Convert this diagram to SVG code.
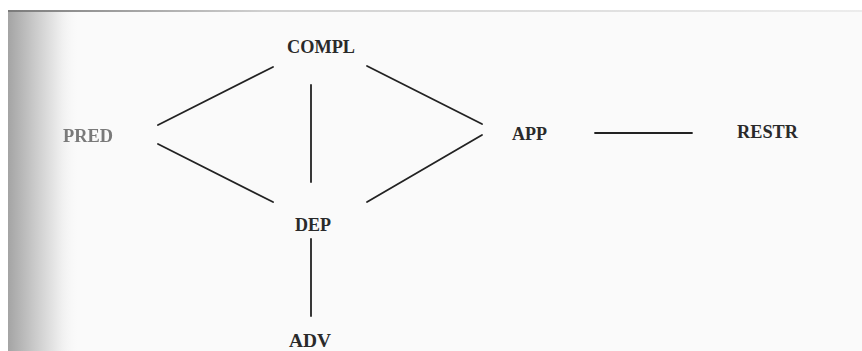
<svg xmlns="http://www.w3.org/2000/svg" width="862" height="351" viewBox="0 0 862 351">
  <defs>
    <linearGradient id="gutter" x1="0" y1="0" x2="1" y2="0">
      <stop offset="0" stop-color="#a4a4a4"/>
      <stop offset="0.35" stop-color="#c8c8c8"/>
      <stop offset="0.75" stop-color="#f0f0f0"/>
      <stop offset="1" stop-color="#fafafa" stop-opacity="0"/>
    </linearGradient>
    <linearGradient id="topedge" x1="0" y1="0" x2="1" y2="0">
      <stop offset="0" stop-color="#7a7a7a"/>
      <stop offset="0.3" stop-color="#d0d0d0"/>
      <stop offset="1" stop-color="#ececec"/>
    </linearGradient>
    <filter id="blur" x="-10%" y="-30%" width="120%" height="160%">
      <feGaussianBlur stdDeviation="0.6"/>
    </filter>
  </defs>
  <style>
    .lbl { font-family: "Liberation Serif", "DejaVu Serif", serif; font-size: 18px; font-weight: bold; fill: #2a2a2a; }
    .faded { fill: #7a7a7a; }
    .edge { stroke: #222222; stroke-width: 1.8; stroke-linecap: round; fill: none; }
  </style>
  <rect x="0" y="0" width="862" height="351" fill="#fafafa"/>
  <rect x="0" y="0" width="862" height="10" fill="#ffffff"/>
  <rect x="8" y="10" width="854" height="2" fill="url(#topedge)"/>
  <rect x="8" y="12" width="72" height="339" fill="url(#gutter)"/>
  <rect x="0" y="0" width="8" height="351" fill="#ffffff"/>

  <g id="connectors">
    <line class="edge" x1="158" y1="125" x2="273" y2="67"/>
    <line class="edge" x1="158" y1="144" x2="273" y2="202"/>
    <line class="edge" x1="311" y1="85" x2="311" y2="182"/>
    <line class="edge" x1="367" y1="66" x2="482" y2="124"/>
    <line class="edge" x1="482" y1="135" x2="367" y2="202"/>
    <line class="edge" x1="311" y1="239" x2="311" y2="316"/>
    <line class="edge" x1="595" y1="133" x2="692" y2="133"/>
  </g>

  <g id="node-compl"><text class="lbl" x="287" y="53" textLength="68" lengthAdjust="spacingAndGlyphs">COMPL</text></g>
  <g id="node-pred"><text class="lbl faded" x="63" y="142" textLength="50" lengthAdjust="spacingAndGlyphs" filter="url(#blur)">PRED</text></g>
  <g id="node-app"><text class="lbl" x="512" y="140" textLength="35" lengthAdjust="spacingAndGlyphs">APP</text></g>
  <g id="node-restr"><text class="lbl" x="737" y="138" textLength="61" lengthAdjust="spacingAndGlyphs">RESTR</text></g>
  <g id="node-dep"><text class="lbl" x="295" y="231" textLength="36" lengthAdjust="spacingAndGlyphs">DEP</text></g>
  <g id="node-adv"><text class="lbl" x="289" y="347" textLength="42" lengthAdjust="spacingAndGlyphs">ADV</text></g>
</svg>
